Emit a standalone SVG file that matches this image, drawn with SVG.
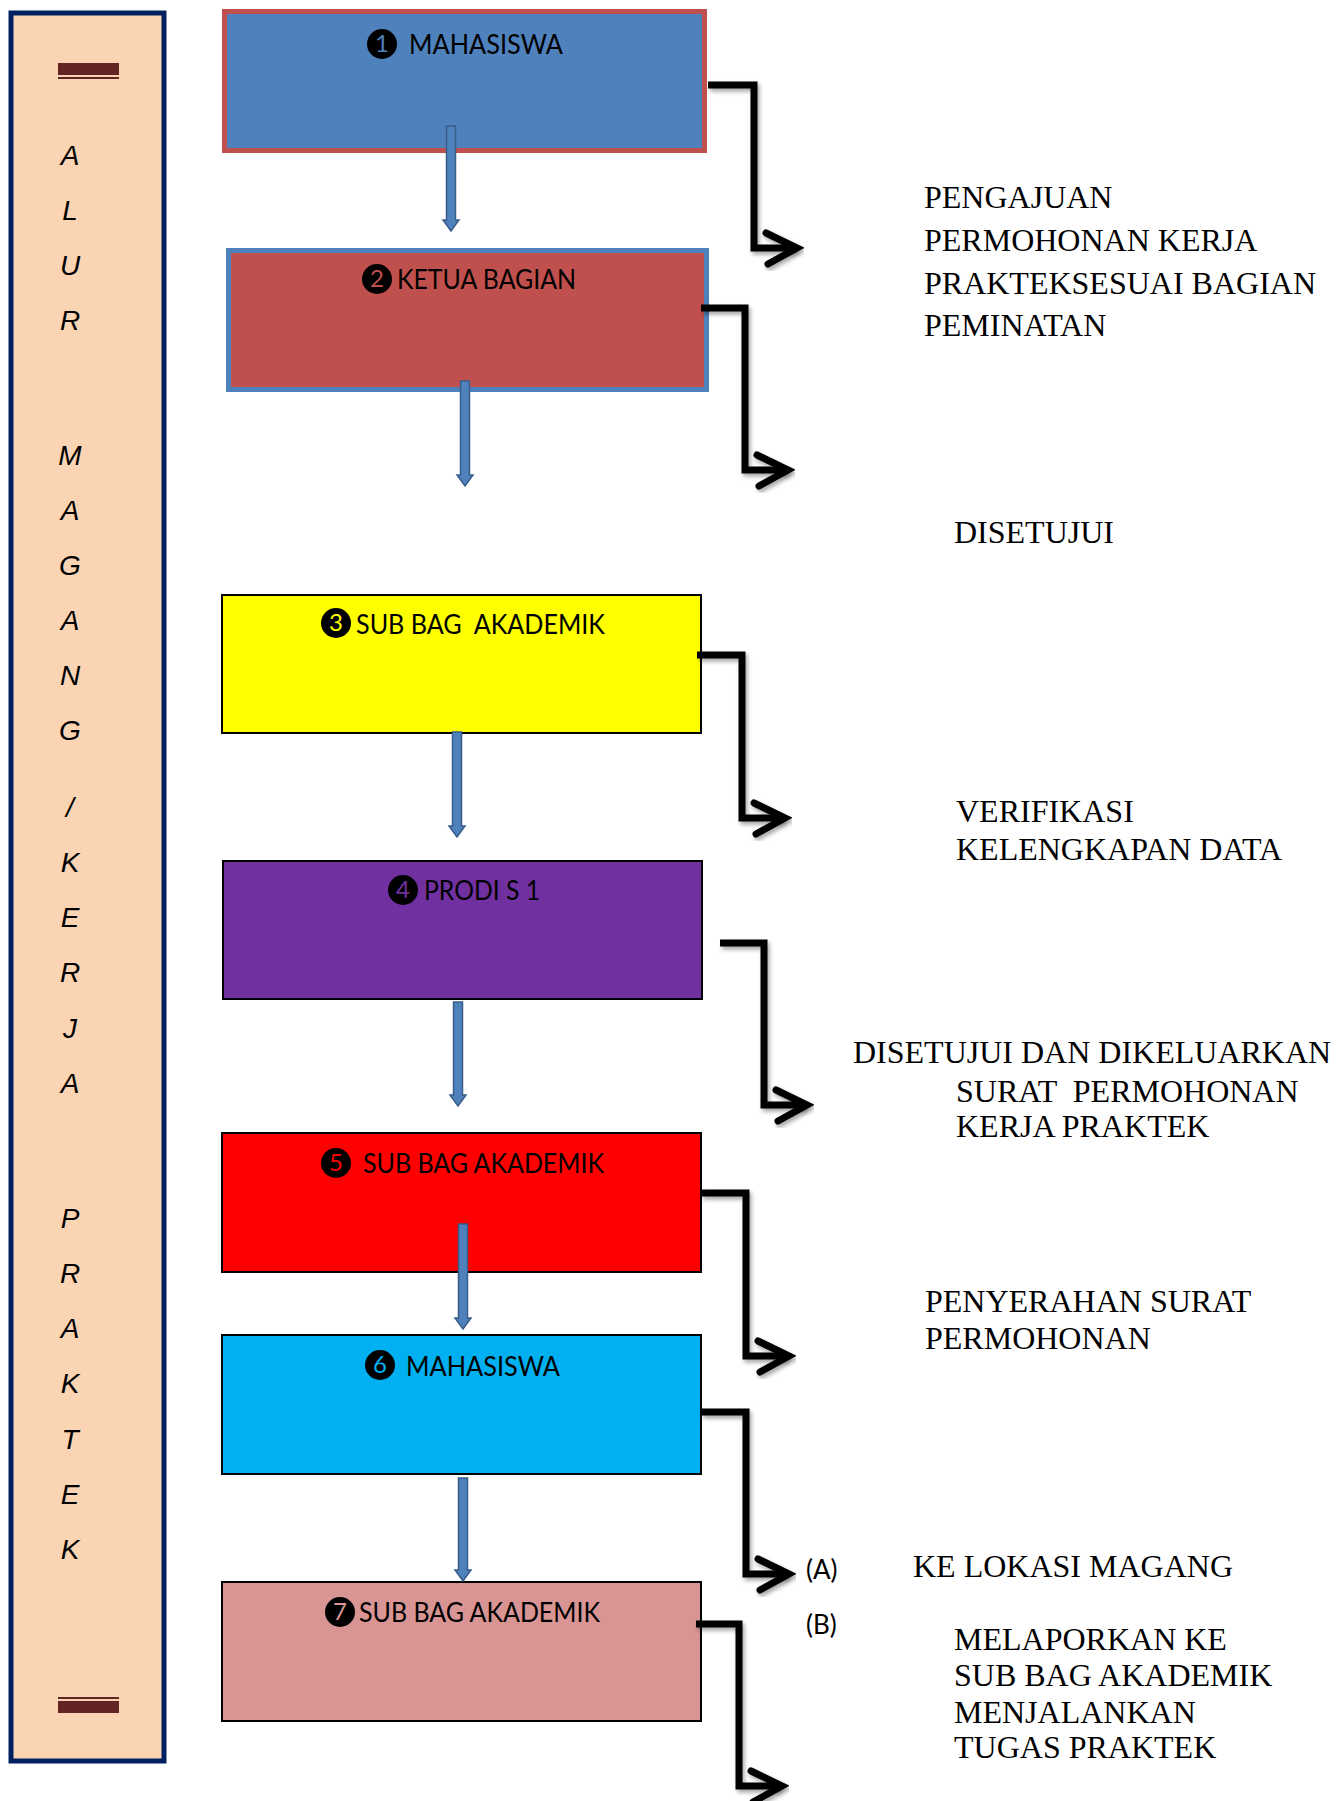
<svg xmlns="http://www.w3.org/2000/svg" width="1340" height="1801" viewBox="0 0 1340 1801">
<style>
.side{font-family:"Liberation Sans",Arial,sans-serif;font-style:italic;font-size:28px;fill:#000;text-anchor:middle}
.lbl{font-family:Lato,"Open Sans",sans-serif;font-size:27px;fill:#000}
.num{font-family:Lato,"Open Sans",sans-serif;font-size:24px;text-anchor:middle}
.desc{font-family:"Liberation Serif","Times New Roman",serif;font-size:32px;fill:#000}
.ab{font-family:Lato,"Open Sans",sans-serif;font-size:26px;fill:#000}
.blk{fill:none;stroke:#000;stroke-width:7;stroke-linejoin:miter;filter:url(#sh)}
.chev{fill:none;stroke:#000;stroke-width:7;stroke-linecap:round;stroke-linejoin:miter;filter:url(#sh)}
.blue{fill:#4F81BD;stroke:#385D8A;stroke-width:1.5}
.box{stroke:#000;stroke-width:2}
</style>
<defs>
<filter id="sh" x="-20%" y="-20%" width="140%" height="140%">
<feDropShadow dx="2" dy="3" stdDeviation="2" flood-color="#000" flood-opacity="0.35"/>
</filter>
</defs>

<g id="side-panel">
<rect x="11" y="13" width="153" height="1748" fill="#FBD4B4" stroke="#002060" stroke-width="5"/>
<rect x="58" y="63" width="61" height="12" fill="#632523"/>
<rect x="58" y="77" width="61" height="2" fill="#632523"/>
<rect x="58" y="1697" width="61" height="2" fill="#632523"/>
<rect x="58" y="1701" width="61" height="12" fill="#632523"/>
<text class="side" x="70" y="165">A</text>
<text class="side" x="70" y="220">L</text>
<text class="side" x="70" y="275">U</text>
<text class="side" x="70" y="330">R</text>
<text class="side" x="70" y="465">M</text>
<text class="side" x="70" y="520">A</text>
<text class="side" x="70" y="575">G</text>
<text class="side" x="70" y="630">A</text>
<text class="side" x="70" y="685">N</text>
<text class="side" x="70" y="740">G</text>
<text class="side" x="70" y="817">/</text>
<text class="side" x="70" y="872">K</text>
<text class="side" x="70" y="927">E</text>
<text class="side" x="70" y="982">R</text>
<text class="side" x="70" y="1038">J</text>
<text class="side" x="70" y="1093">A</text>
<text class="side" x="70" y="1228">P</text>
<text class="side" x="70" y="1283">R</text>
<text class="side" x="70" y="1338">A</text>
<text class="side" x="70" y="1393">K</text>
<text class="side" x="70" y="1449">T</text>
<text class="side" x="70" y="1504">E</text>
<text class="side" x="70" y="1559">K</text>
</g>

<g id="node1">
<rect x="224.5" y="11.5" width="480" height="139" fill="#4F81BD" stroke="#C0504D" stroke-width="5"/>
<ellipse cx="382" cy="44" rx="15" ry="15" fill="#000"/>
<text class="num" x="382" y="52" fill="#4F81BD">1</text>
<text class="lbl" x="409" y="54" textLength="154" lengthAdjust="spacingAndGlyphs">MAHASISWA</text>
</g>

<g id="node2">
<rect x="228.5" y="250.5" width="478" height="139" fill="#C0504D" stroke="#4F81BD" stroke-width="5"/>
<ellipse cx="377" cy="279" rx="15" ry="15" fill="#000"/>
<text class="num" x="377" y="287" fill="#C0504D">2</text>
<text class="lbl" x="397" y="289" textLength="179" lengthAdjust="spacingAndGlyphs">KETUA BAGIAN</text>
</g>

<g id="node3">
<rect class="box" x="222" y="595" width="479" height="138" fill="#FFFF00"/>
<ellipse cx="336" cy="623" rx="15" ry="15" fill="#000"/>
<text class="num" x="336" y="631" fill="#FFFF00">3</text>
<text class="lbl" x="356" y="634" textLength="249" lengthAdjust="spacingAndGlyphs" xml:space="preserve">SUB BAG  AKADEMIK</text>
</g>

<g id="node4">
<rect class="box" x="223" y="861" width="479" height="138" fill="#7030A0"/>
<ellipse cx="403" cy="890" rx="15" ry="15" fill="#000"/>
<text class="num" x="403" y="898" fill="#7030A0">4</text>
<text class="lbl" x="424" y="900" textLength="116" lengthAdjust="spacingAndGlyphs">PRODI S 1</text>
</g>

<g id="node5">
<rect class="box" x="222" y="1133" width="479" height="139" fill="#FF0000"/>
<ellipse cx="336" cy="1163" rx="15" ry="15" fill="#000"/>
<text class="num" x="336" y="1171" fill="#FF0000">5</text>
<text class="lbl" x="363" y="1173" textLength="241" lengthAdjust="spacingAndGlyphs">SUB BAG AKADEMIK</text>
</g>

<g id="node6">
<rect class="box" x="222" y="1335" width="479" height="139" fill="#00B0F0"/>
<ellipse cx="380" cy="1365" rx="15" ry="15" fill="#000"/>
<text class="num" x="380" y="1373" fill="#00B0F0">6</text>
<text class="lbl" x="406" y="1376" textLength="154" lengthAdjust="spacingAndGlyphs">MAHASISWA</text>
</g>

<g id="node7">
<rect class="box" x="222" y="1582" width="479" height="139" fill="#D99594"/>
<ellipse cx="340" cy="1612" rx="15" ry="15" fill="#000"/>
<text class="num" x="340" y="1620" fill="#D99594">7</text>
<text class="lbl" x="359" y="1622" textLength="241" lengthAdjust="spacingAndGlyphs">SUB BAG AKADEMIK</text>
</g>

<g id="connectors">
<path class="blue" d="M446.5,126 H455.5 V220 H459 L451,231 L443,220 H446.5 Z"/>
<path class="blue" d="M460.5,381 H469.5 V475 H473 L465,486 L457,475 H460.5 Z"/>
<path class="blue" d="M452.5,732 H461.5 V826 H465 L457,837 L449,826 H452.5 Z"/>
<path class="blue" d="M453.5,1002 H462.5 V1095 H466 L458,1106 L450,1095 H453.5 Z"/>
<path class="blue" d="M458.5,1224 H467.5 V1318 H471 L463,1329 L455,1318 H458.5 Z"/>
<path class="blue" d="M458.5,1478 H467.5 V1570 H471 L463,1581 L455,1570 H458.5 Z"/>

<path class="blk" d="M708,85 H754 V248 H795"/>
<path class="chev" d="M766,233 L797,248 L768,264"/>
<path class="blk" d="M701,308 H745 V470 H787"/>
<path class="chev" d="M757,455 L788,470 L759,486"/>
<path class="blk" d="M697,655 H742 V818 H783"/>
<path class="chev" d="M754,803 L785,818 L756,834"/>
<path class="blk" d="M720,943 H764 V1105 H805"/>
<path class="chev" d="M776,1090 L807,1105 L778,1121"/>
<path class="blk" d="M701,1193 H746 V1356 H787"/>
<path class="chev" d="M758,1341 L789,1356 L760,1372"/>
<path class="blk" d="M701,1412 H746 V1574 H787"/>
<path class="chev" d="M758,1559 L789,1574 L760,1590"/>
<path class="blk" d="M696,1624 H739 V1786 H780"/>
<path class="chev" d="M751,1771 L782,1786 L753,1802"/>
</g>

<g id="labels">
<text class="desc" x="924" y="208">PENGAJUAN</text>
<text class="desc" x="924" y="251">PERMOHONAN KERJA</text>
<text class="desc" x="924" y="294">PRAKTEKSESUAI BAGIAN</text>
<text class="desc" x="924" y="336">PEMINATAN</text>
<text class="desc" x="954" y="543">DISETUJUI</text>
<text class="desc" x="956" y="822">VERIFIKASI</text>
<text class="desc" x="956" y="860">KELENGKAPAN DATA</text>
<text class="desc" x="853" y="1063">DISETUJUI DAN DIKELUARKAN</text>
<text class="desc" x="956" y="1102" xml:space="preserve">SURAT  PERMOHONAN</text>
<text class="desc" x="956" y="1137">KERJA PRAKTEK</text>
<text class="desc" x="925" y="1312">PENYERAHAN SURAT</text>
<text class="desc" x="925" y="1349">PERMOHONAN</text>
<text class="ab" x="806" y="1579">(A)</text>
<text class="desc" x="913" y="1577">KE LOKASI MAGANG</text>
<text class="ab" x="806" y="1634">(B)</text>
<text class="desc" x="954" y="1650">MELAPORKAN KE</text>
<text class="desc" x="954" y="1686">SUB BAG AKADEMIK</text>
<text class="desc" x="954" y="1723">MENJALANKAN</text>
<text class="desc" x="954" y="1758">TUGAS PRAKTEK</text>
</g>
</svg>
